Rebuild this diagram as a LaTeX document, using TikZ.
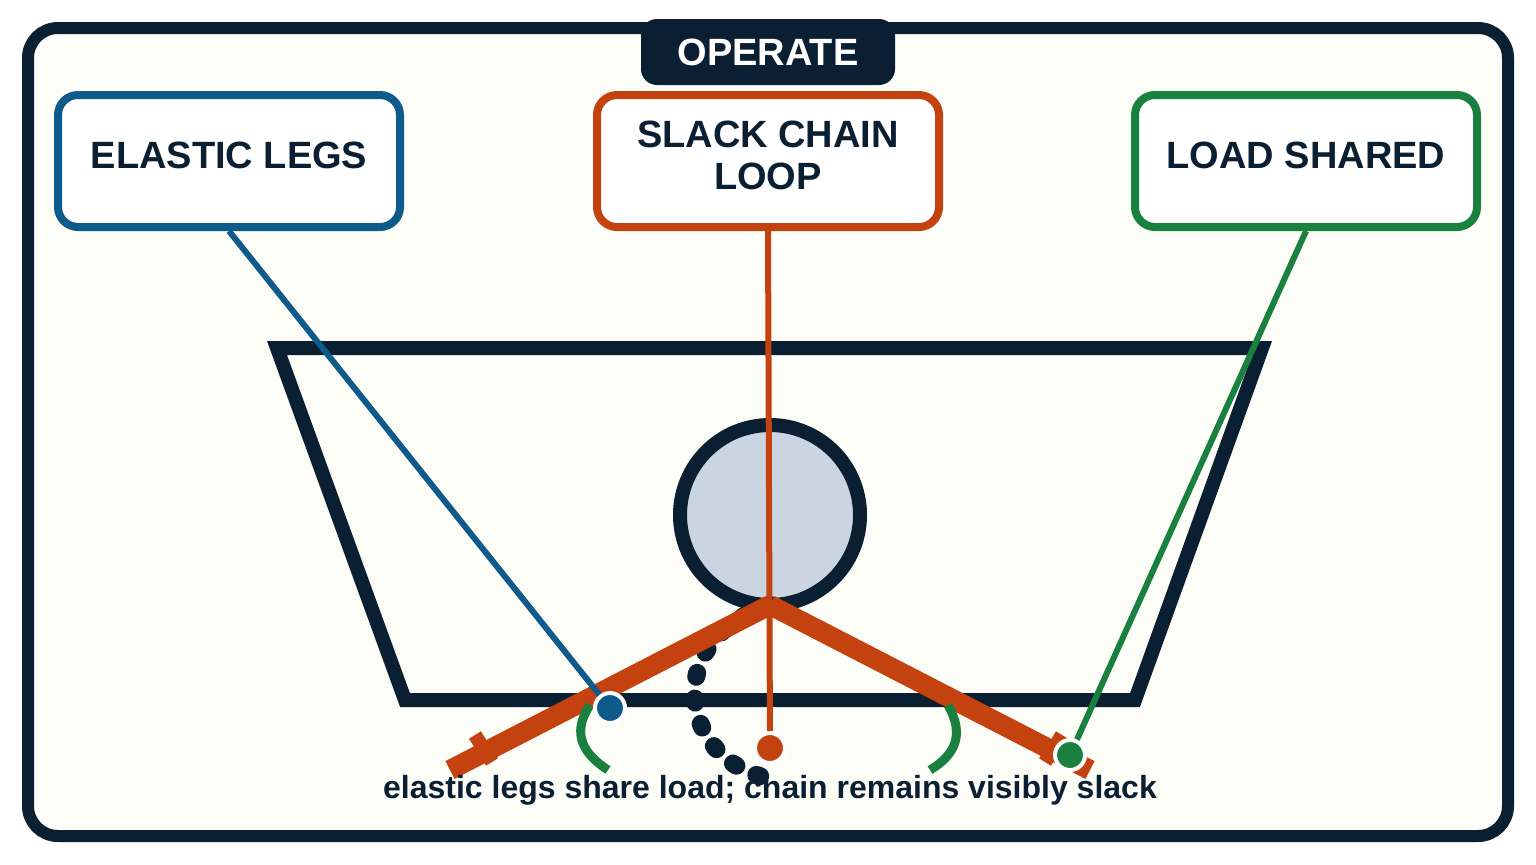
\documentclass[tikz,border=0pt]{standalone}
\usepackage{fontspec}
\setmainfont{Liberation Sans}
\begin{document}
\begin{tikzpicture}[x=0.5pt,y=-0.5pt,
 box/.style={draw,line width=4pt,rounded corners=10pt,fill=white,minimum width=171pt,minimum height=66pt},
 lbl/.style={align=center,font=\fontsize{19}{21}\selectfont\bfseries,text=dk},
 dot/.style={circle,draw=white,line width=2pt,inner sep=0pt,minimum size=15pt}]
\definecolor{dk}{HTML}{0B1F33}\definecolor{bl}{HTML}{0E5A8A}\definecolor{or}{HTML}{C4420F}\definecolor{gr}{HTML}{1A8040}
\useasboundingbox (0,0) rectangle (1536,864);
\fill[white] (0,0) rectangle (1536,864);
\draw[dk,line width=6pt,fill={rgb,255:red,253;green,253;blue,248},rounded corners=15pt] (28,28) rectangle (1508,836);
\node[fill=dk,rounded corners=8pt,minimum width=127pt,minimum height=33pt,text=white,font=\fontsize{19}{21}\selectfont\bfseries] (op) at (768,52) {OPERATE};
\node[box,draw=bl] (el) at (229,161) {};
\node[box,draw=or] (sc) at (768,161) {};
\node[box,draw=gr] (ls) at (1306,161) {};
\node[lbl] at (229,155) {ELASTIC LEGS};
\node[lbl] at (768,155) {SLACK CHAIN\\LOOP};
\node[lbl] at (1306,155) {LOAD SHARED};
\draw[dk,line width=7pt] (277,348) -- (1262,348) -- (1135,700) -- (405,700) -- cycle;
\node[circle,draw=dk,fill={rgb,255:red,203;green,213;blue,225},line width=7pt,minimum size=90pt] (c) at (770,515) {};
\coordinate (h) at (770,605);
\draw[dk,line width=9pt,line cap=round,dash pattern=on 2pt off 11pt] (h) .. controls (660,640) and (680,760) .. (768,778);
\draw[or,line width=10pt] (h) -- (450,770);
\draw[or,line width=10pt] (h) -- (1090,770);
\draw[or,line width=7pt] (475,735) -- (492,762);
\draw[or,line width=7pt] (1062,735) -- (1045,762);
\draw[gr,line width=4.5pt] (590,705) .. controls (570,735) and (585,755) .. (608,770);
\draw[gr,line width=4.5pt] (948,705) .. controls (965,735) and (955,755) .. (930,770);
\node[dot,fill=bl] (d1) at (610,708) {};
\node[dot,fill=or] (d2) at (770,748) {};
\node[dot,fill=gr] (d3) at (1070,755) {};
\draw[bl,line width=3pt] (el.south) -- (d1);
\draw[or,line width=3pt] (sc.south) -- (d2);
\draw[gr,line width=3pt] (ls.south) -- (d3);
\node[font=\fontsize{16}{18}\selectfont\bfseries,text=dk] (cap) at (770,790) {elastic legs share load; chain remains visibly slack};
\end{tikzpicture}
\end{document}
